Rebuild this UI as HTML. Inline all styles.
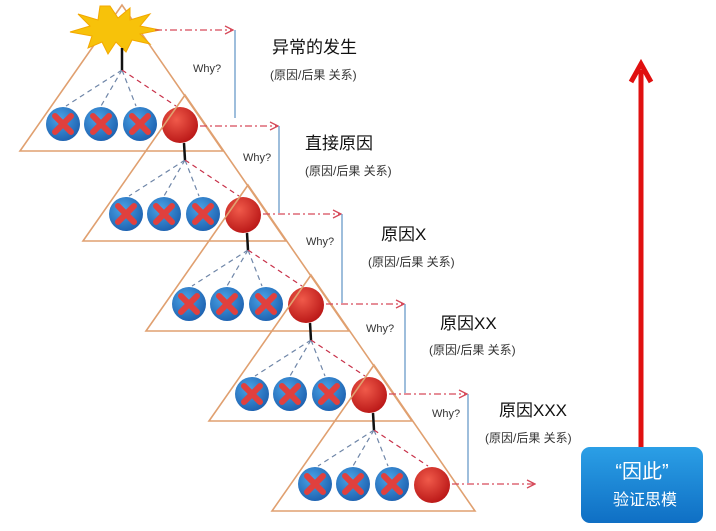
<!DOCTYPE html>
<html><head><meta charset="utf-8"><style>
body{margin:0;background:#fff;}
svg{display:block;font-family:"Liberation Sans","Noto Sans CJK SC",sans-serif;}
</style></head><body>
<svg width="716" height="531" viewBox="0 0 716 531" xmlns="http://www.w3.org/2000/svg">
<defs>
<radialGradient id="bl" cx="0.4" cy="0.35" r="0.7"><stop offset="0" stop-color="#4aa3e6"/><stop offset="1" stop-color="#1c5fae"/></radialGradient>
<radialGradient id="rd" cx="0.4" cy="0.35" r="0.7"><stop offset="0" stop-color="#f05a4a"/><stop offset="1" stop-color="#b81515"/></radialGradient>
<linearGradient id="bx" x1="0" y1="0" x2="0" y2="1"><stop offset="0" stop-color="#2b9fe6"/><stop offset="1" stop-color="#0f6fc4"/></linearGradient>
<marker id="ah" markerWidth="10" markerHeight="10" refX="9" refY="5" orient="auto" markerUnits="userSpaceOnUse"><path d="M1,1 L9,5 L1,9" fill="none" stroke="#d64a5a" stroke-width="1.3"/></marker>
<g id="bc"><circle r="17" fill="url(#bl)"/><path d="M-8,-8 L8,8 M8,-8 L-8,8" stroke="#e0403e" stroke-width="6" stroke-linecap="round"/></g>
<g id="tri">
<polygon points="122,5 20,151 223,151" fill="none" stroke="#e0a070" stroke-width="1.6"/>
<g stroke="#6f86a8" stroke-width="1.2" stroke-dasharray="5,4" fill="none">
<line x1="122" y1="70" x2="66" y2="106"/><line x1="122" y1="70" x2="101" y2="106"/><line x1="122" y1="70" x2="136" y2="106"/>
</g>
<line x1="122" y1="70" x2="176" y2="106" stroke="#c8324a" stroke-width="1.2" stroke-dasharray="5,4"/>
<use href="#bc" x="63" y="124"/><use href="#bc" x="101" y="124"/><use href="#bc" x="140" y="124"/>
<circle cx="180" cy="125" r="18" fill="url(#rd)"/>
</g>
</defs>
<use href="#tri"/>
<use href="#tri" x="63" y="90"/>
<use href="#tri" x="126" y="180"/>
<use href="#tri" x="189" y="270"/>
<use href="#tri" x="252" y="360"/>
<!-- star -->
<polygon points="110,6 118,18 130,8 130,20 150,14 140,26 160,30 140,34 150,44 132,40 126,52 116,42 108,54 102,42 88,48 92,36 70,32 90,26 78,14 98,20 100,6" fill="#f7c20a" stroke="#f3a800" stroke-width="1"/>
<line x1="122" y1="48" x2="122" y2="70" stroke="#111" stroke-width="2.5"/>
<g stroke="#111" stroke-width="2.5">
<line x1="184" y1="143" x2="185" y2="160"/>
<line x1="247" y1="233" x2="248" y2="250"/>
<line x1="310" y1="323" x2="311" y2="340"/>
<line x1="373" y1="413" x2="374" y2="430"/>
</g>
<!-- arrows -->
<g stroke="#d64a5a" stroke-width="1.3" stroke-dasharray="7,3,2,3" fill="none" marker-end="url(#ah)">
<line x1="155" y1="30" x2="233" y2="30"/>
<line x1="200" y1="126" x2="278" y2="126"/>
<line x1="263" y1="214" x2="341" y2="214"/>
<line x1="326" y1="304" x2="404" y2="304"/>
<line x1="389" y1="394" x2="467" y2="394"/>
<line x1="452" y1="484" x2="535" y2="484"/>
</g>
<g stroke="#6a9cc8" stroke-width="1.3">
<line x1="235" y1="30" x2="235" y2="118"/>
<line x1="279" y1="126" x2="279" y2="213"/>
<line x1="342" y1="214" x2="342" y2="303"/>
<line x1="405" y1="304" x2="405" y2="393"/>
<line x1="468" y1="394" x2="468" y2="483"/>
</g>
<g font-size="11" fill="#333">
<text x="193" y="72">Why?</text><text x="243" y="161">Why?</text><text x="306" y="245">Why?</text><text x="366" y="332">Why?</text><text x="432" y="417">Why?</text>
</g>
<g font-size="17" fill="#111">
<text x="272" y="53">异常的发生</text><text x="305" y="149">直接原因</text><text x="381" y="240">原因X</text><text x="440" y="329">原因XX</text><text x="499" y="416">原因XXX</text>
</g>
<g font-size="12" fill="#333">
<text x="270" y="79">(原因/后果 关系)</text><text x="305" y="175">(原因/后果 关系)</text><text x="368" y="266">(原因/后果 关系)</text><text x="429" y="354">(原因/后果 关系)</text><text x="485" y="442">(原因/后果 关系)</text>
</g>
<!-- red arrow -->
<line x1="641" y1="70" x2="641" y2="448" stroke="#e01010" stroke-width="5"/>
<path d="M631,82 L641,64 L651,82" fill="none" stroke="#e01010" stroke-width="5" stroke-linejoin="miter"/>
<rect x="581" y="447" width="122" height="76" rx="9" fill="url(#bx)"/>
<text x="642" y="478" font-size="20" fill="#fff" text-anchor="middle">“因此”</text>
<text x="645" y="505" font-size="16" fill="#fff" text-anchor="middle">验证思模</text>
</svg>
</body></html>
